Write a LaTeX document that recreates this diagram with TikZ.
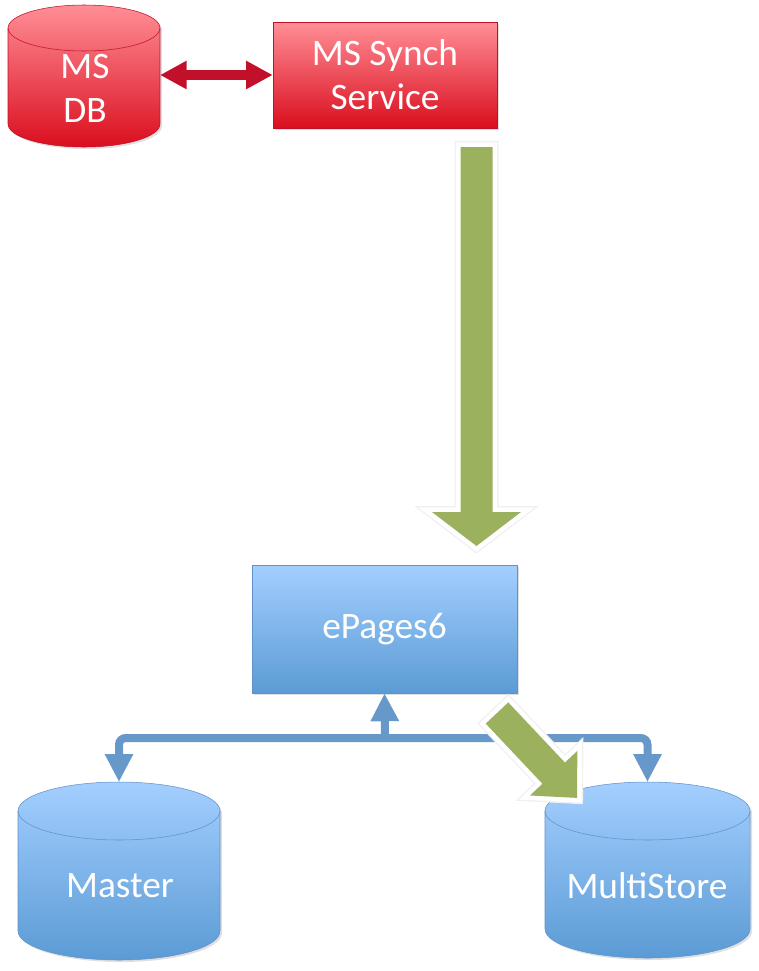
\documentclass[tikz,border=0pt]{standalone}
\usepackage{fontspec}
\setmainfont{Carlito}
\usetikzlibrary{positioning, arrows.meta, shadows, calc}
\definecolor{Red-top}{RGB}{255,142,150}
\definecolor{Red-bot}{RGB}{218,14,30}
\definecolor{Red-line}{RGB}{194,16,42}
\definecolor{Blue-top}{RGB}{163,207,255}
\definecolor{Blue-bot}{RGB}{91,155,213}
\definecolor{Blue-line}{RGB}{98,145,200}
\definecolor{Blue-link}{RGB}{102,152,202}
\definecolor{Olive}{RGB}{155,177,93}

\begin{document}
\begin{tikzpicture}[x=0.75pt, y=-0.75pt]
      \tikzset{ label/.style  ={text=white, align=center, inner sep=0pt, font=\fontsize{28}{33}\selectfont} }
      \tikzset{ redbox/.style ={label, draw=Red-line,  top color=Red-top,  bottom color=Red-bot,  drop shadow={opacity=0.25, shadow xshift=1.5pt, shadow yshift=-1.5pt}} }
      \tikzset{ bluebox/.style={label, draw=Blue-line, top color=Blue-top, bottom color=Blue-bot, drop shadow={opacity=0.25, shadow xshift=1.5pt, shadow yshift=-1.5pt}} }
      \tikzset{ redfill/.style ={draw=Red-line,  top color=Red-top,  bottom color=Red-bot,  drop shadow={opacity=0.25, shadow xshift=1.5pt, shadow yshift=-1.5pt}} }
      \tikzset{ bluefill/.style={draw=Blue-line, top color=Blue-top, bottom color=Blue-bot, drop shadow={opacity=0.25, shadow xshift=1.5pt, shadow yshift=-1.5pt}} }
      \tikzset{ sync/.style   ={draw=Red-line,  line width=7.5pt, {Triangle[width=20pt, length=20pt]}-{Triangle[width=20pt, length=20pt]}} }
      \tikzset{ bus/.style    ={draw=Blue-link, line width=6pt, rounded corners=5pt} }
      \tikzset{ flow/.style   ={fill=Olive, preaction={draw=black!6, line width=9pt}, preaction={draw=white, line width=7pt}} }

      \useasboundingbox (0,0) rectangle (758,971);

      % databases
      \shade[redfill ] (  8, 28) -- (  8,124) arc[start angle=180, end angle=360, x radius=57pt,    y radius=17.25pt]
                    -- (160, 28) arc[start angle=0,   end angle=180, x radius=57pt,    y radius=17.25pt] -- cycle;
      \draw[Red-line ] (  8, 28) arc[start angle=180, end angle=360, x radius=57pt,    y radius=17.25pt];

      \shade[bluefill] ( 18,811) -- ( 18,931) arc[start angle=180, end angle=360, x radius=75.75pt, y radius=21.75pt]
                    -- (220,811) arc[start angle=0,   end angle=180, x radius=75.75pt, y radius=21.75pt] -- cycle;
      \draw[Blue-line] ( 18,811) arc[start angle=180, end angle=360, x radius=75.75pt, y radius=21.75pt];

      \shade[bluefill] (545,811) -- (545,929) arc[start angle=180, end angle=360, x radius=76.9pt,  y radius=21.75pt]
                    -- (750,811) arc[start angle=0,   end angle=180, x radius=76.9pt,  y radius=21.75pt] -- cycle;
      \draw[Blue-line] (545,811) arc[start angle=180, end angle=360, x radius=76.9pt,  y radius=21.75pt];

      \node[label  ] (msdb)   at ( 85.0,  88.5) {MS\\DB};
      \node[label  ] (master) at (120.0, 886.0) {Master};
      \node[label  ] (mstore) at (647.0, 886.0) {MultiStore};

      \coordinate (msdb_e)     at (160.0,  75.0);
      \coordinate (master_top) at (119.0, 782.0);
      \coordinate (mstore_top) at (647.5, 782.0);

      % boxes
      \node[redbox , minimum width=168pt,    minimum height=79.5pt] (synch)  at (385.0,  75.0) {MS Synch\\Service};
      \node[bluebox, minimum width=198.75pt, minimum height=96pt  ] (epages) at (384.5, 629.0) {ePages6};

      \draw[sync] (msdb_e) -- (synch.west);

      \coordinate (hub) at (385.0, 738.0);

      \draw[bus, {Triangle[width=20pt, length=21pt]}-{Triangle[width=20pt, length=21pt]}] (master_top) |- (hub) -| (mstore_top);
      \draw[bus, -{Triangle[width=20pt, length=21pt]}] (hub) -- (epages.south);

      % green feeds
      \coordinate (feed_a) at (476.5, 147.0);
      \coordinate (feed_b) at (476.5, 546.0);
      \fill[flow] ([xshift=-12pt]feed_a) -- ([xshift=-12pt,yshift=25.5pt]feed_b) -- ([xshift=-33.4pt,yshift=25.5pt]feed_b) -- (feed_b)
               -- ([xshift=33.4pt,yshift=25.5pt]feed_b) -- ([xshift=12pt,yshift=25.5pt]feed_b) -- ([xshift=12pt]feed_a) -- cycle;

      \coordinate (load_a) at (497.0, 713.0);
      \begin{scope}[shift={(load_a)}, rotate=-46.7]
        \fill[flow] (0pt,-11.6pt) -- (62pt,-11.6pt) -- (62pt,-24.4pt) -- (87.5pt,0pt) -- (62pt,24.4pt) -- (62pt,11.6pt) -- (0pt,11.6pt) -- cycle;
      \end{scope}
\end{tikzpicture}
\end{document}
